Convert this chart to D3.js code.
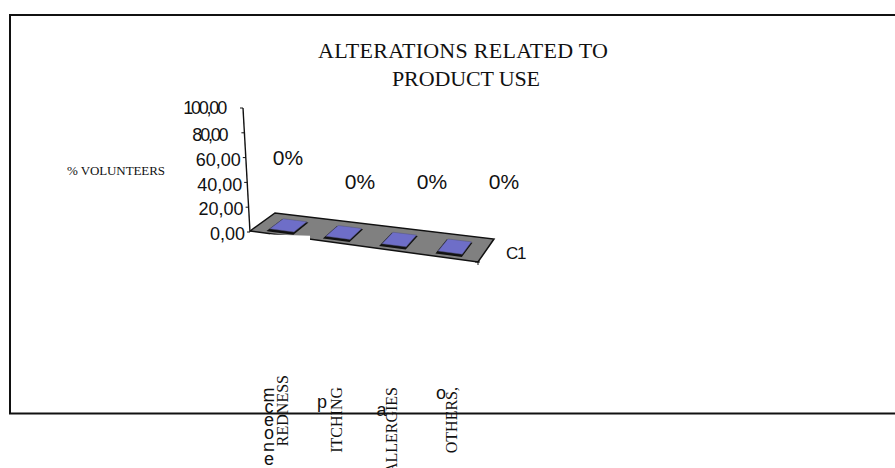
<!DOCTYPE html>
<html>
<head>
<meta charset="utf-8">
<script src="https://cdn.jsdelivr.net/npm/d3@7/dist/d3.min.js"></script>
<style>
  html, body { margin: 0; padding: 0; background: #fff; overflow: hidden; }
  svg { display: block; }
  .serif { font-family: "Liberation Serif", serif; fill: #111; }
  .sans { font-family: "Liberation Sans", sans-serif; fill: #111; }
</style>
</head>
<body>
<svg id="chart" width="895" height="468"></svg>
<script>
const categories = ["REDNESS", "ITCHING", "ALLERGIES", "OTHERS,"];
const values = [0, 0, 0, 0];
const valueLabels = ["0%", "0%", "0%", "0%"];
const yTicks = [0, 20, 40, 60, 80, 100];
const titleLines = ["ALTERATIONS RELATED TO", "PRODUCT USE"];
const yTitle = "% VOLUNTEERS";
const seriesName = "C1";
const stackedLetters = ["m", "c", "e", "o", "n", "e"];
const strayLetters = ["p", "a", "o"];

const svg = d3.select("#chart");

// Outer chart frame, open on the right
svg.append("path")
  .attr("d", "M895,15H10V413.5H895")
  .attr("fill", "none").attr("stroke", "#111").attr("stroke-width", 2);

// Title
const titleText = svg.append("g").attr("class", "serif").attr("font-size", 22);
titleText.append("text").attr("x", 318).attr("y", 58)
  .attr("textLength", 290).attr("lengthAdjust", "spacing").text(titleLines[0]);
titleText.append("text").attr("x", 392).attr("y", 86)
  .attr("textLength", 148).attr("lengthAdjust", "spacing").text(titleLines[1]);

svg.append("text").attr("class", "serif")
  .attr("x", 67).attr("y", 175).attr("font-size", 13)
  .attr("textLength", 98).attr("lengthAdjust", "spacing").text(yTitle);

// Oblique floor: four corners, addressed by (along, depth) in 0..1
const floor = { fl: [250, 231], fr: [478, 262], bl: [275, 213], br: [494, 239] };
const along = d3.scaleBand().domain(categories).range([-0.008, 0.985]);
const depth = d3.scaleLinear().domain([0, 1]).range([0, 1]);
function project(u, v) {
  const d = depth(v);
  const front = [floor.fl[0] + (floor.fr[0] - floor.fl[0]) * u, floor.fl[1] + (floor.fr[1] - floor.fl[1]) * u];
  const back = [floor.bl[0] + (floor.br[0] - floor.bl[0]) * u, floor.bl[1] + (floor.br[1] - floor.bl[1]) * u];
  return [front[0] + (back[0] - front[0]) * d, front[1] + (back[1] - front[1]) * d];
}
const line = d3.line();

// Value axis leans slightly with the projection
const yScale = d3.scaleLinear().domain([0, 100]).range([232, 108]);
const axisX = d3.scaleLinear().domain([0, 100]).range([250, 243]);

const floorPts = [floor.fl, floor.fr, floor.br, floor.bl];
svg.append("path").attr("d", line(floorPts) + "Z").attr("fill", "#808080");
svg.append("path").attr("d", line([floor.fl, floor.bl, floor.br, floor.fr, floor.fl]))
  .attr("fill", "none").attr("stroke", "#111").attr("stroke-width", 1.5);
svg.append("path").attr("d", line([floor.fr, [floor.fr[0], floor.fr[1] + 3]]))
  .attr("stroke", "#111").attr("stroke-width", 1);
svg.append("path").attr("d", line([[floor.fr[0] - 3, floor.fr[1]], [floor.fr[0] + 2, floor.fr[1]]]))
  .attr("stroke", "#111").attr("stroke-width", 1);

// White patch breaks the front edge of the floor near the first column
svg.append("path").attr("d", line([[270, 234.5], [310, 235.8], [310, 247], [270, 247]]) + "Z")
  .attr("fill", "#fff");

// Columns: zero values collapse to their flat cap on the floor
const barWidth = 0.43, barDepth = 0.55;
const bars = svg.append("g").selectAll("g").data(categories).join("g");
function cap(cat) {
  const u0 = along(cat) + (along.bandwidth() - along.bandwidth() * barWidth) / 2;
  const u1 = u0 + along.bandwidth() * barWidth;
  const v0 = 0.5 - barDepth / 2, v1 = 0.5 + barDepth / 2;
  return [project(u0, v0), project(u1, v0), project(u1, v1), project(u0, v1)];
}
bars.append("path")
  .attr("d", d => line(cap(d)) + "Z")
  .attr("transform", "translate(-0.8,1.6)")
  .attr("fill", "#111").attr("stroke", "#111").attr("stroke-width", 2);
bars.append("path")
  .attr("d", d => line(cap(d)) + "Z")
  .attr("transform", (d, i) => `translate(0,${yScale(values[i]) - yScale(0)})`)
  .attr("fill", "#6e6ec8").attr("stroke", "#55557a").attr("stroke-width", 0.5);

// Value axis line, ticks and labels
svg.append("path")
  .attr("d", line([[axisX(100), yScale(100)], [axisX(0), yScale(0)]]))
  .attr("stroke", "#111").attr("stroke-width", 1.4);
const tick = svg.append("g").selectAll("g").data(yTicks).join("g")
  .attr("transform", d => `translate(${axisX(d)},${yScale(d)})`);
tick.append("line").attr("x1", -3).attr("x2", 0).attr("stroke", "#111");
tick.append("text").attr("class", "sans")
  .attr("text-anchor", "end").attr("font-size", 18).attr("dy", d => d === 100 ? "0.35em" : "0.45em")
  .attr("x", d => d >= 80 ? -18 : -5)
  .attr("letter-spacing", d => d >= 80 ? -2.2 : 0)
  .text(d => d3.format(".2f")(d).replace(".", ","));

// Data labels float above the floor; the first sits higher
const labelX = d3.scalePoint().domain(categories).range([288, 504]);
svg.append("g").selectAll("text").data(categories).join("text")
  .attr("class", "sans").attr("text-anchor", "middle").attr("font-size", 21)
  .attr("x", d => labelX(d))
  .attr("y", (d, i) => i === 0 ? 165 : 189)
  .text((d, i) => valueLabels[i]);

svg.append("text").attr("class", "sans")
  .attr("x", 506).attr("y", 259).attr("font-size", 17).attr("letter-spacing", -1.2)
  .text(seriesName);

// Rotated category labels, overlapping the frame's lower edge
const catX = d3.scalePoint().domain(categories).range([288, 451]);
svg.append("g").selectAll("text").data(categories).join("text")
  .attr("class", "serif").attr("font-size", 16).attr("text-anchor", "end")
  .attr("transform", (d, i) => `translate(${catX(d) + (i === 3 ? 5.5 : 0)},${i === 0 ? 375 : 387}) rotate(-90)`)
  .text(d => d);

// Leftover sans letters beside the category labels
const stackY = d3.scalePoint().domain(d3.range(stackedLetters.length)).range([395, 460]);
svg.append("g").selectAll("text").data(stackedLetters).join("text")
  .attr("class", "sans").attr("font-size", 18).attr("text-anchor", "middle")
  .attr("dy", "0.26em")
  .attr("transform", (d, i) => `translate(269,${stackY(i)}) rotate(${d === "m" || d === "n" ? -90 : 0})`)
  .text(d => d);
const strayX = d3.scalePoint().domain(strayLetters).range([322, 441]);
svg.append("g").selectAll("text").data(strayLetters).join("text")
  .attr("class", "sans").attr("font-size", 18).attr("text-anchor", "middle")
  .attr("x", d => strayX(d))
  .attr("y", (d, i) => [408, 416, 399][i])
  .text(d => d);
</script>
</body>
</html>
